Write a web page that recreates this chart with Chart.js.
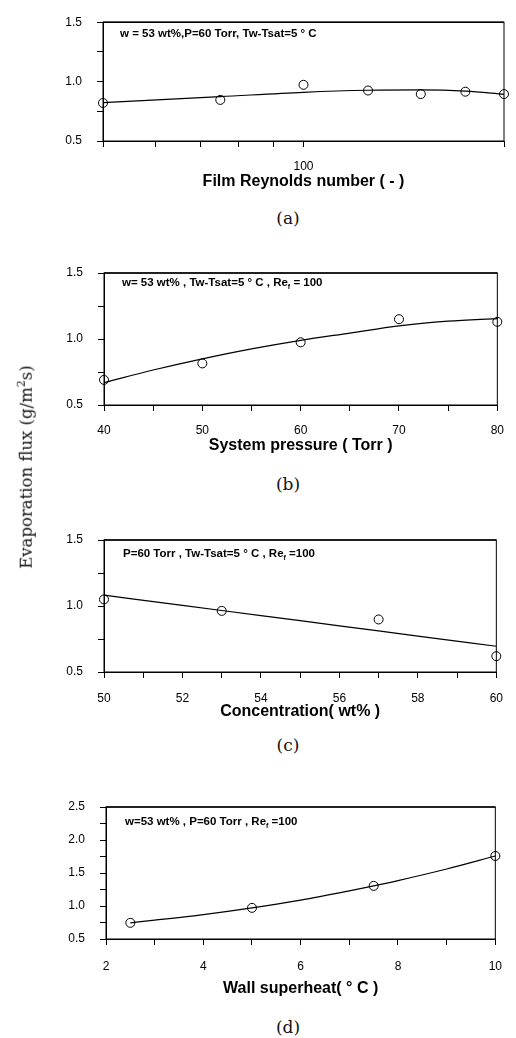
<!DOCTYPE html>
<html>
<head>
<meta charset="utf-8">
<script src="https://cdn.jsdelivr.net/npm/chart.js@4.4.0/dist/chart.umd.min.js"></script>
<style>
  body { margin: 0; background: #fff; width: 516px; height: 1038px; position: relative; overflow: hidden; }
  canvas { position: absolute; left: 0; }
  .cap { position: absolute; width: 60px; text-align: center; font-family: "DejaVu Serif"; font-size: 17px; color: #111; line-height: 20px; }
  #ytitle { position: absolute; left: 25px; top: 467px; transform: translate(-50%, -50%) rotate(-90deg); white-space: nowrap;
            font-family: "DejaVu Serif"; font-size: 16.5px; color: #111; }
  #ytitle sup { font-size: 11px; }
</style>
</head>
<body>
<canvas id="chart-a" width="516" height="191" style="top:0px"></canvas>
<canvas id="chart-b" width="516" height="225" style="top:230px"></canvas>
<canvas id="chart-c" width="516" height="226" style="top:495px"></canvas>
<canvas id="chart-d" width="516" height="238" style="top:760px"></canvas>
<div class="cap" style="left:258px; top:208px">(a)</div>
<div class="cap" style="left:258px; top:474px">(b)</div>
<div class="cap" style="left:258px; top:735px">(c)</div>
<div class="cap" style="left:258px; top:1017px">(d)</div>
<div id="ytitle">Evaporation flux (g/m<sup>2</sup>s)</div>
<script>
// (a) film Reynolds number
const reA = [50, 75, 100, 125, 150, 175, 200];
const fluxA = [0.82, 0.846, 0.973, 0.925, 0.895, 0.915, 0.895];
const reFitA = [50, 75, 100, 125, 150, 175, 200];
const fluxFitA = [0.823, 0.873, 0.91, 0.927, 0.93, 0.92, 0.893];
const xTicksA = [50, 60, 70, 80, 90, 100, 200];
const xLabelsA = ['', '', '', '', '', '100', ''];

// (b) system pressure
const pB = [40, 50, 60, 70, 80];
const fluxB = [0.69, 0.815, 0.975, 1.15, 1.13];
const pFitB = [40, 45, 50, 55, 60, 65, 70, 75, 80];
const fluxFitB = [0.67, 0.765, 0.85, 0.925, 0.99, 1.045, 1.1, 1.135, 1.155];
const xTicksB = [40, 45, 50, 55, 60, 65, 70, 75, 80];
const xLabelsB = ['40', '', '50', '', '60', '', '70', '', '80'];

// (c) concentration
const wC = [50, 53, 57, 60];
const fluxC = [1.05, 0.963, 0.898, 0.62];
const wFitC = [50, 52, 54, 56, 58, 60];
const fluxFitC = [1.082, 1.005, 0.927, 0.85, 0.772, 0.695];
const xTicksC = [50, 51, 52, 53, 54, 55, 56, 57, 58, 59, 60];
const xLabelsC = ['50', '', '52', '', '54', '', '56', '', '58', '', '60'];

// (d) wall superheat
const dtD = [2.5, 5, 7.5, 10];
const fluxD = [0.745, 0.972, 1.305, 1.758];
const dtFitD = [2.5, 3, 4, 5, 6, 7, 7.5, 8, 9, 10];
const fluxFitD = [0.745, 0.785, 0.87, 0.972, 1.09, 1.23, 1.305, 1.385, 1.56, 1.758];
const xTicksD = [2, 3, 4, 5, 6, 7, 8, 9, 10];
const xLabelsD = ['2', '', '4', '', '6', '', '8', '', '10'];

const yTicks = [0.5, 0.75, 1.0, 1.25, 1.5];
const yLabels = ['0.5', '', '1.0', '', '1.5'];
const yTicksD = [0.5, 0.75, 1.0, 1.25, 1.5, 1.75, 2.0, 2.25, 2.5];
const yLabelsD = ['0.5', '', '1.0', '', '1.5', '', '2.0', '', '2.5'];

const sans = 'Liberation Sans';

function toPoints(xs, ys) {
    return xs.map((x, i) => ({ x: x, y: ys[i] }));
}

// box around the plot and the condition note in the upper left
const framePlugin = {
    id: 'frame',
    afterDraw(chart, args, opts) {
        const { ctx, chartArea: a } = chart;
        ctx.save();
        ctx.strokeStyle = '#000';
        ctx.lineWidth = 1;
        ctx.strokeRect(a.left, a.top, a.right - a.left, a.bottom - a.top);
        ctx.lineWidth = 1.5;
        ctx.beginPath();
        ctx.moveTo(a.left, a.top);
        ctx.lineTo(a.right, a.top);
        ctx.stroke();

        let x = a.left + opts.dx;
        const y = a.top + opts.dy;
        ctx.fillStyle = '#000';
        ctx.textBaseline = 'middle';
        opts.note.forEach(part => {
            ctx.font = part.sub ? `bold 7px ${sans}` : `bold 11.5px ${sans}`;
            ctx.fillText(part.t, x, part.sub ? y + 4 : y);
            x += ctx.measureText(part.t).width;
        });
        ctx.restore();
    }
};

function makePanel(id, p) {
    const tickFont = { family: sans, size: 12 };
    new Chart(document.getElementById(id), {
        type: 'scatter',
        data: {
            datasets: [
                {
                    data: toPoints(p.fitX, p.fitY),
                    showLine: true,
                    borderColor: '#000',
                    borderWidth: 1.2,
                    pointRadius: 0,
                    tension: 0.4,
                    cubicInterpolationMode: 'monotone',
                    clip: false
                },
                {
                    data: toPoints(p.x, p.y),
                    showLine: false,
                    pointRadius: 4.5,
                    pointHoverRadius: 4.5,
                    pointBorderColor: '#000',
                    pointBackgroundColor: 'rgba(0,0,0,0)',
                    pointBorderWidth: 1,
                    clip: false
                }
            ]
        },
        options: {
            responsive: false,
            animation: false,
            events: [],
            layout: { padding: { left: 0, top: p.top, right: p.right, bottom: 0 } },
            plugins: {
                legend: { display: false },
                tooltip: { enabled: false },
                frame: { note: p.note, dx: p.noteX, dy: p.noteY }
            },
            scales: {
                x: {
                    type: p.xType,
                    position: 'bottom',
                    min: p.xMin,
                    max: p.xMax,
                    grid: { drawOnChartArea: false, tickLength: 6, tickColor: '#000', lineWidth: 1 },
                    border: { color: '#000', width: 1 },
                    ticks: {
                        color: '#000',
                        font: tickFont,
                        padding: p.xPad,
                        maxRotation: 0,
                        autoSkip: false,
                        callback: (v, i) => p.xLabels[i]
                    },
                    title: {
                        display: true,
                        text: p.xTitle,
                        color: '#000',
                        font: { family: sans, size: 16, weight: 'bold' },
                        padding: 0
                    },
                    afterBuildTicks: s => { s.ticks = p.xTicks.map(v => ({ value: v })); },
                    afterFit: s => { s.height = p.xH; }
                },
                y: {
                    type: 'linear',
                    min: p.yTicks[0],
                    max: p.yTicks[p.yTicks.length - 1],
                    grid: { drawOnChartArea: false, tickLength: 6, tickColor: '#000', lineWidth: 1 },
                    border: { color: '#000', width: 1 },
                    ticks: {
                        color: '#000',
                        font: tickFont,
                        padding: 15,
                        autoSkip: false,
                        callback: (v, i) => p.yLabels[i]
                    },
                    afterBuildTicks: s => { s.ticks = p.yTicks.map(v => ({ value: v })); },
                    afterFit: s => { s.width = p.left; }
                }
            }
        },
        plugins: [framePlugin]
    });
}

makePanel('chart-a', {
    x: reA, y: fluxA, fitX: reFitA, fitY: fluxFitA,
    xType: 'logarithmic', xMin: 50, xMax: 200, xTicks: xTicksA, xLabels: xLabelsA,
    yTicks: yTicks, yLabels: yLabels,
    xTitle: 'Film Reynolds number ( - )',
    left: 103, right: 9, top: 10, xH: 50, xPad: 12,
    note: [{ t: 'w = 53 wt%,P=60 Torr, Tw-Tsat=5 \u00b0 C' }], noteX: 17, noteY: 12
});

makePanel('chart-b', {
    x: pB, y: fluxB, fitX: pFitB, fitY: fluxFitB,
    xType: 'linear', xMin: 40, xMax: 80, xTicks: xTicksB, xLabels: xLabelsB,
    yTicks: yTicks, yLabels: yLabels,
    xTitle: 'System pressure ( Torr )',
    left: 104, right: 9, top: 43, xH: 50, xPad: 12,
    note: [{ t: 'w= 53 wt% , Tw-Tsat=5 \u00b0 C , Re' }, { t: 'f', sub: true }, { t: ' = 100' }], noteX: 18, noteY: 10
});

makePanel('chart-c', {
    x: wC, y: fluxC, fitX: wFitC, fitY: fluxFitC,
    xType: 'linear', xMin: 50, xMax: 60, xTicks: xTicksC, xLabels: xLabelsC,
    yTicks: yTicks, yLabels: yLabels,
    xTitle: 'Concentration( wt% )',
    left: 104, right: 9, top: 45, xH: 49, xPad: 13,
    note: [{ t: 'P=60 Torr , Tw-Tsat=5 \u00b0 C , Re' }, { t: 'f', sub: true }, { t: ' =100' }], noteX: 19, noteY: 14
});

makePanel('chart-d', {
    x: dtD, y: fluxD, fitX: dtFitD, fitY: fluxFitD,
    xType: 'linear', xMin: 2, xMax: 10, xTicks: xTicksD, xLabels: xLabelsD,
    yTicks: yTicksD, yLabels: yLabelsD,
    xTitle: 'Wall superheat( \u00b0 C )',
    left: 106, right: 8, top: 47, xH: 59, xPad: 14,
    note: [{ t: 'w=53 wt% , P=60 Torr , Re' }, { t: 'f', sub: true }, { t: ' =100' }], noteX: 19, noteY: 15
});
</script>
</body>
</html>
